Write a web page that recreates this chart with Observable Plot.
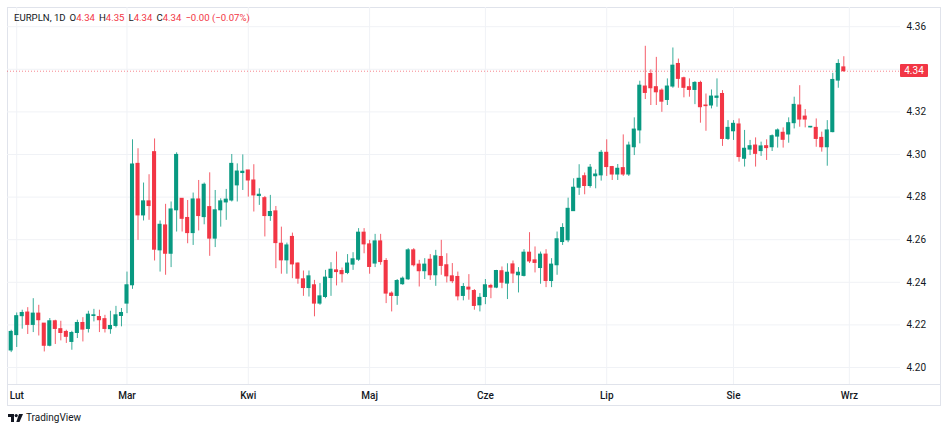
<!DOCTYPE html>
<html><head><meta charset="utf-8">
<script src="https://cdn.jsdelivr.net/npm/d3@7"></script>
<script src="https://cdn.jsdelivr.net/npm/@observablehq/plot@0.6"></script>
<style>
html,body{margin:0;padding:0;background:#fff;}
#wrap{position:relative;width:948px;height:433px;font-family:Roboto,"Noto Sans",sans-serif;color:#131722;overflow:hidden;}
#frame{position:absolute;left:7px;top:7px;width:934px;height:399px;border:1px solid #e0e3eb;box-sizing:border-box;}
#sep{position:absolute;left:7px;top:384px;width:934px;height:1px;background:#e0e3eb;}
#chart{position:absolute;left:0;top:0;}
#head{position:absolute;left:14px;top:12px;font-size:9.6px;line-height:12px;white-space:nowrap;}
#head span{margin-left:4px;}
#head .r{color:#f23645;margin-left:0;}
#plabel{position:absolute;left:900px;width:28px;height:13px;background:#f23645;color:#fff;font-size:10px;line-height:13px;text-align:center;border-radius:1px;}
#logo{position:absolute;left:8px;top:412px;font-size:10px;line-height:12px;display:flex;align-items:center;gap:3px;color:#131722;}
</style></head>
<body>
<div id="wrap">
  <div id="frame"></div>
  <div id="sep"></div>
  <div id="chart"></div>
  <div id="head">EURPLN, 1D<span>O<b class="r" style="font-weight:normal">4.34</b></span><span>H<b class="r" style="font-weight:normal">4.35</b></span><span>L<b class="r" style="font-weight:normal">4.34</b></span><span>C<b class="r" style="font-weight:normal">4.34</b></span><span class="r" style="margin-left:4px">−0.00 (−0.07%)</span></div>
  <div id="plabel"></div>
  <div id="logo"><svg width="15" height="8" viewBox="0 0 15 8"><path d="M0 0H6V8H3V3H0Z" fill="#131722"/><circle cx="8.2" cy="1.6" r="1.6" fill="#131722"/><path d="M11 0H15L11.5 8H8.3Z" fill="#131722"/></svg><span>TradingView</span></div>
</div>
<script>
const opens  = [4.208,4.2152,4.2241,4.2258,4.22,4.2253,4.2206,4.2102,4.2217,4.218,4.2167,4.212,4.2162,4.2209,4.2181,4.2242,4.2237,4.2227,4.218,4.2195,4.2242,4.23,4.2386,4.2956,4.2714,4.278,4.3011,4.255,4.2667,4.2534,4.2738,4.2792,4.2702,4.2631,4.2789,4.2706,4.2753,4.2605,4.2738,4.2775,4.2784,4.2855,4.2913,4.2925,4.2878,4.2805,4.2795,4.2711,4.2733,4.2581,4.2503,4.2613,4.2488,4.2414,4.2373,4.2386,4.23,4.2331,4.242,4.2456,4.2453,4.2444,4.2483,4.2506,4.2633,4.2578,4.2488,4.2592,4.25,4.2347,4.2336,4.2391,4.2414,4.255,4.2483,4.2452,4.2506,4.2433,4.2519,4.248,4.2428,4.2425,4.2336,4.2375,4.2359,4.2292,4.2331,4.2383,4.2375,4.2452,4.2394,4.2484,4.2433,4.243,4.2539,4.2503,4.2467,4.253,4.2406,4.248,4.2589,4.2597,4.2734,4.2844,4.2898,4.2852,4.2898,4.2902,4.3008,4.2941,4.2906,4.2936,4.2906,4.3034,4.3113,4.3319,4.3378,4.3316,4.33,4.3256,4.3319,4.3425,4.3358,4.3316,4.3303,4.3336,4.323,4.323,4.3266,4.3284,4.3073,4.3109,4.3141,4.298,4.3023,4.3042,4.3016,4.3039,4.3034,4.3084,4.3102,4.3094,4.3147,4.323,4.3178,4.3127,4.3125,4.3078,4.3034,4.3105,4.3347,4.3409];
const highs  = [4.2175,4.2256,4.2269,4.2281,4.2323,4.2292,4.2206,4.223,4.2222,4.2217,4.2175,4.217,4.2222,4.2234,4.2264,4.2273,4.2269,4.2245,4.2264,4.2287,4.2277,4.2448,4.3069,4.3027,4.2866,4.2905,4.3073,4.2688,4.2766,4.2777,4.3008,4.2792,4.2784,4.2819,4.2878,4.2866,4.2914,4.2831,4.2792,4.2836,4.30,4.2956,4.2998,4.2925,4.2952,4.2839,4.2803,4.2808,4.2756,4.2659,4.2584,4.2631,4.2491,4.2453,4.2453,4.2409,4.2394,4.2456,4.2492,4.2542,4.2467,4.253,4.2539,4.2652,4.2652,4.2597,4.2625,4.2625,4.2511,4.2355,4.2413,4.2425,4.2558,4.2558,4.2503,4.2511,4.253,4.255,4.2597,4.2534,4.2488,4.2448,4.2394,4.2436,4.2366,4.2347,4.2413,4.2391,4.2456,4.2472,4.2487,4.25,4.2469,4.2553,4.2633,4.2566,4.2542,4.2553,4.2511,4.2636,4.2675,4.2795,4.2886,4.2952,4.2913,4.2953,4.2928,4.3019,4.3069,4.2944,4.2953,4.3092,4.3058,4.3172,4.3344,4.3508,4.3397,4.3456,4.3308,4.3355,4.35,4.3448,4.3363,4.3355,4.3342,4.3344,4.3284,4.3303,4.3355,4.33,4.3159,4.3159,4.3167,4.3113,4.3066,4.3078,4.3058,4.3069,4.3092,4.312,4.3125,4.3172,4.3269,4.3323,4.3211,4.3131,4.3167,4.3105,4.3159,4.3381,4.3445,4.3459];
const lows   = [4.207,4.2094,4.218,4.2155,4.2164,4.2148,4.2073,4.2097,4.2108,4.2125,4.2113,4.2081,4.2136,4.212,4.2162,4.2214,4.2164,4.2162,4.2156,4.2186,4.2191,4.2253,4.2367,4.2597,4.2688,4.2691,4.25,4.2448,4.2433,4.2469,4.2636,4.2636,4.2581,4.2573,4.2641,4.267,4.2522,4.2563,4.2659,4.2691,4.2777,4.2777,4.2831,4.28,4.273,4.2761,4.2613,4.2686,4.2464,4.2438,4.2438,4.2417,4.2391,4.2334,4.2331,4.2238,4.2292,4.2323,4.2334,4.2383,4.2397,4.2436,4.2456,4.2498,4.2534,4.2438,4.2469,4.248,4.23,4.2261,4.2292,4.2386,4.2409,4.2472,4.2378,4.2413,4.2409,4.2381,4.2433,4.2397,4.2394,4.2313,4.2313,4.2316,4.2269,4.2261,4.2295,4.2323,4.237,4.237,4.2319,4.2394,4.235,4.2425,4.2488,4.2444,4.2391,4.2375,4.2375,4.2433,4.2573,4.2586,4.2734,4.2808,4.2811,4.2842,4.2839,4.2875,4.2897,4.2878,4.2878,4.2897,4.2897,4.2995,4.305,4.3258,4.323,4.323,4.3198,4.323,4.3311,4.3311,4.3266,4.3269,4.3234,4.3147,4.3109,4.3214,4.3222,4.3038,4.3066,4.3066,4.2964,4.2941,4.2995,4.2941,4.2991,4.2972,4.3014,4.303,4.303,4.3053,4.312,4.3128,4.3125,4.3125,4.3034,4.3011,4.2945,4.3102,4.3311,4.3386];
const closes = [4.2167,4.2241,4.2256,4.22,4.2253,4.2222,4.2102,4.2217,4.2181,4.2162,4.2144,4.2162,4.2209,4.2178,4.2248,4.2245,4.2222,4.2181,4.2195,4.2245,4.2256,4.2386,4.2953,4.2714,4.278,4.2758,4.2553,4.267,4.2534,4.2742,4.2998,4.2698,4.2631,4.2789,4.2711,4.2858,4.2605,4.2738,4.278,4.2788,4.2956,4.292,4.2919,4.2878,4.2808,4.2811,4.2711,4.273,4.2584,4.2503,4.2573,4.2484,4.2417,4.2373,4.2428,4.23,4.2334,4.2422,4.2459,4.2448,4.2438,4.2488,4.2508,4.2633,4.2578,4.2472,4.2592,4.2495,4.2347,4.2336,4.2406,4.2417,4.255,4.248,4.2452,4.2483,4.2433,4.2522,4.2477,4.2428,4.2405,4.2334,4.2378,4.2366,4.2289,4.2327,4.2386,4.2375,4.2453,4.2398,4.2445,4.2441,4.2445,4.2539,4.2498,4.2491,4.253,4.2406,4.2483,4.2602,4.2655,4.2745,4.2844,4.2886,4.2852,4.2938,4.2906,4.3008,4.2941,4.2906,4.2933,4.2906,4.3042,4.3117,4.3323,4.3289,4.3311,4.3292,4.3248,4.3319,4.3417,4.3355,4.3313,4.3303,4.3336,4.3222,4.3227,4.3272,4.3272,4.3073,4.3125,4.3144,4.2988,4.3027,4.3039,4.3003,4.3038,4.303,4.3086,4.3113,4.3069,4.3147,4.3233,4.3164,4.3164,4.313,4.3073,4.3034,4.3113,4.335,4.3425,4.3391];
const monthLabels = ["Lut","Mar","Kwi","Maj","Cze","Lip","Sie","Wrz"];
const monthIndex  = [1,21,43,65,86,108,131,152];
const yTickValues = [4.20,4.22,4.24,4.26,4.28,4.30,4.32,4.34,4.36];

const UP = "#089981", DOWN = "#f23645";
const candles = opens.map((o, i) => ({i, o, h: highs[i], l: lows[i], c: closes[i]}));
const colorOf = d => d.c >= d.o ? UP : DOWN;
const lastClose = closes[closes.length - 1];
const half = 0.37;

const plot = Plot.plot({
  width: 948, height: 433,
  marginLeft: 7, marginRight: 48, marginTop: 7, marginBottom: 49,
  style: {background: "transparent", fontFamily: "Roboto, 'Noto Sans', sans-serif", fontSize: "10px", color: "#131722"},
  x: {type: "linear", domain: [-0.671, 161.28], axis: null, label: null},
  y: {type: "linear", domain: [4.19202, 4.36901], axis: null, label: null},
  color: {type: "identity"},
  marks: [
    Plot.gridY(yTickValues, {stroke: "#f0f2f6", strokeOpacity: 1}),
    Plot.gridX(monthIndex, {stroke: "#f0f2f6", strokeOpacity: 1}),
    Plot.ruleY([lastClose], {stroke: DOWN, strokeOpacity: 0.6, strokeDasharray: "1,2", strokeWidth: 1}),
    Plot.ruleX(candles, {x: "i", y1: "l", y2: "h", stroke: colorOf, strokeWidth: 1, strokeOpacity: 0.8}),
    Plot.rect(candles, {x1: d => d.i - half, x2: d => d.i + half, y1: "o", y2: "c", fill: colorOf, insetTop: -0.5, insetBottom: -0.5}),
    Plot.axisY(yTickValues.filter(v => v !== 4.34), {anchor: "right", label: null, tickSize: 0, tickPadding: 6, tickFormat: d3.format(".2f"), fill: "#131722", fontSize: 10}),
    Plot.axisX(monthIndex, {anchor: "bottom", label: null, tickSize: 0, tickPadding: 7, tickFormat: d => monthLabels[monthIndex.indexOf(d)], fill: "#131722", fontSize: 10, fontWeight: 500})
  ]
});
document.getElementById("chart").appendChild(plot);
const yPos = plot.scale("y").apply(lastClose);
const lab = document.getElementById("plabel");
lab.textContent = d3.format(".2f")(lastClose);
lab.style.top = (yPos - 6.5) + "px";
</script>
</body></html>
